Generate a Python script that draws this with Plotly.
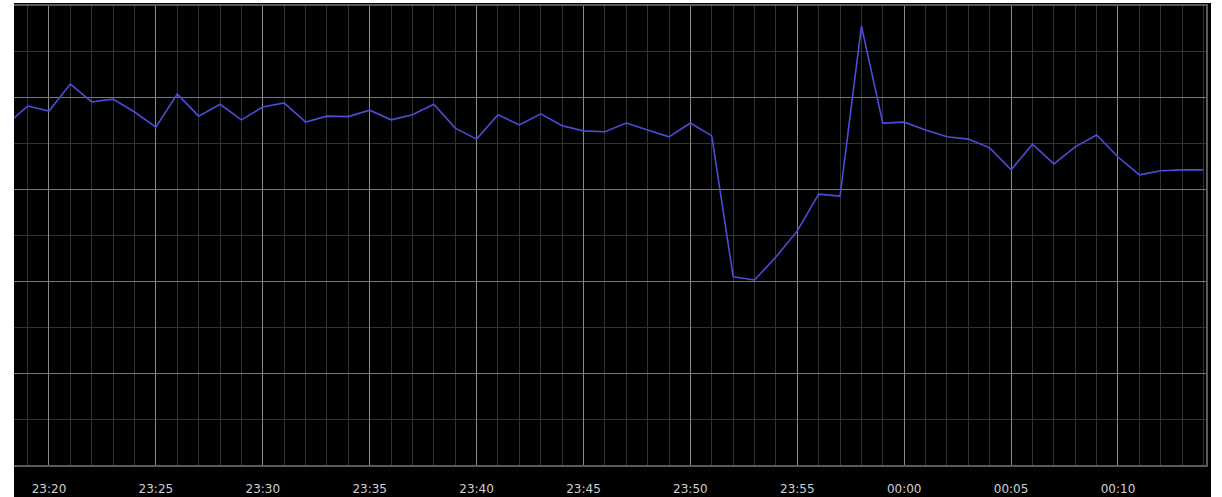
import plotly.graph_objects as go
import pandas as pd

# Data: one sample per minute, 23:18 -> 00:14
start_time = "2024-01-01 23:18:00"
n_points = 57
values = [
    74.1, 78.2, 77.1, 83.0, 79.1, 79.7, 76.9, 73.6, 80.8, 76.0,
    78.6, 75.2, 78.0, 78.9, 74.7, 76.0, 75.9, 77.3, 75.2, 76.3,
    78.6, 73.4, 71.0, 76.3, 74.1, 76.5, 73.9, 72.8, 72.6, 74.5,
    73.0, 71.5, 74.5, 71.7, 41.0, 40.3, 45.3, 51.0, 59.0, 58.6,
    95.6, 74.5, 74.7, 73.0, 71.5, 71.0, 69.1, 64.3, 69.9, 65.6,
    69.3, 71.9, 67.1, 63.2, 64.1, 64.3, 64.3,
]
times = pd.date_range(start=start_time, periods=n_points, freq="1min")

x_range = ["2024-01-01 23:18:21.8", "2024-01-02 00:14:07"]
y_range = [0, 100]

fig = go.Figure()
fig.add_trace(go.Scatter(
    x=times, y=values, mode="lines",
    line=dict(color="#4c4cd8", width=1.6),
    hoverinfo="skip", showlegend=False,
))

W, H = 1222, 497
ml, mr, mt, mb = 14, 16, 6, 32
pw, ph = W - ml - mr, H - mt - mb

fig.update_layout(
    width=W, height=H,
    margin=dict(l=ml, r=mr, t=mt, b=mb, pad=0, autoexpand=False),
    paper_bgcolor="white",
    plot_bgcolor="black",
    showlegend=False,
    shapes=[dict(
        type="rect", xref="paper", yref="paper", layer="below",
        x0=0, x1=(1211 - ml) / pw, y0=-mb / ph, y1=1 + 3 / ph,
        fillcolor="black", line=dict(width=0),
    )],
    xaxis=dict(
        type="date", range=x_range, automargin=False,
        tickformat="%H:%M", dtick=300000, tick0="2024-01-01 23:20:00",
        showgrid=True, gridcolor="#8a8a8a", gridwidth=1,
        minor=dict(dtick=60000, showgrid=True, gridcolor="#333333", gridwidth=1),
        showline=True, mirror=True, linecolor="#5a5a5a", linewidth=2,
        ticks="", ticklabelstandoff=12,
        tickfont=dict(family="DejaVu Sans", size=12, color="#d0d0d0"),
        zeroline=False, fixedrange=True,
    ),
    yaxis=dict(
        range=y_range, dtick=20, tick0=0, automargin=False,
        showgrid=True, gridcolor="#777777", gridwidth=1,
        minor=dict(dtick=10, showgrid=True, gridcolor="#333333", gridwidth=1),
        showticklabels=False, ticks="",
        showline=True, side="right", linecolor="#5a5a5a", linewidth=2,
        zeroline=False, fixedrange=True,
    ),
)

fig.write_html(
    "out.html",
    config={"displayModeBar": False},
    post_script="document.body.style.margin='0';document.body.style.padding='0';",
)
